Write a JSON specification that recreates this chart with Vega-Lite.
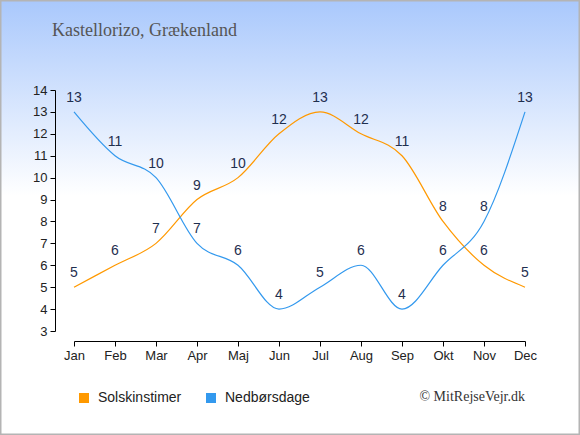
{
  "$schema": "https://vega.github.io/schema/vega-lite/v6.json",
  "width": 580,
  "height": 435,
  "padding": 0,
  "autosize": {"type": "none"},
  "background": "white",
  "title": {
    "text": "Kastellorizo, Grækenland",
    "anchor": "start",
    "frame": "group",
    "font": "Liberation Serif",
    "fontSize": 18,
    "fontWeight": "normal",
    "color": "#555555",
    "baseline": "alphabetic",
    "offset": -37,
    "dx": 52,
    "dy": 17
  },
  "data": {
    "values": [
      {"month": "Jan", "series": "Solskinstimer", "value": 5},
      {"month": "Feb", "series": "Solskinstimer", "value": 6},
      {"month": "Mar", "series": "Solskinstimer", "value": 7},
      {"month": "Apr", "series": "Solskinstimer", "value": 9},
      {"month": "Maj", "series": "Solskinstimer", "value": 10},
      {"month": "Jun", "series": "Solskinstimer", "value": 12},
      {"month": "Jul", "series": "Solskinstimer", "value": 13},
      {"month": "Aug", "series": "Solskinstimer", "value": 12},
      {"month": "Sep", "series": "Solskinstimer", "value": 11},
      {"month": "Okt", "series": "Solskinstimer", "value": 8},
      {"month": "Nov", "series": "Solskinstimer", "value": 6},
      {"month": "Dec", "series": "Solskinstimer", "value": 5},
      {"month": "Jan", "series": "Nedbørsdage", "value": 13},
      {"month": "Feb", "series": "Nedbørsdage", "value": 11},
      {"month": "Mar", "series": "Nedbørsdage", "value": 10},
      {"month": "Apr", "series": "Nedbørsdage", "value": 7},
      {"month": "Maj", "series": "Nedbørsdage", "value": 6},
      {"month": "Jun", "series": "Nedbørsdage", "value": 4},
      {"month": "Jul", "series": "Nedbørsdage", "value": 5},
      {"month": "Aug", "series": "Nedbørsdage", "value": 6},
      {"month": "Sep", "series": "Nedbørsdage", "value": 4},
      {"month": "Okt", "series": "Nedbørsdage", "value": 6},
      {"month": "Nov", "series": "Nedbørsdage", "value": 8},
      {"month": "Dec", "series": "Nedbørsdage", "value": 13}
    ]
  },
  "encoding": {
    "x": {
      "field": "month",
      "type": "ordinal",
      "sort": ["Jan", "Feb", "Mar", "Apr", "Maj", "Jun", "Jul", "Aug", "Sep", "Okt", "Nov", "Dec"],
      "scale": {"type": "point", "range": [74, 525], "padding": 0},
      "axis": {
        "title": null,
        "offset": -94,
        "labelAngle": 0,
        "grid": false,
        "domainColor": "#000000",
        "tickColor": "#000000",
        "tickSize": 5,
        "labelFont": "Liberation Sans",
        "labelFontSize": 13,
        "labelColor": "#222222",
        "labelPadding": 3
      }
    },
    "y": {
      "field": "value",
      "type": "quantitative",
      "scale": {"domain": [3, 14], "range": [331, 90], "nice": false, "zero": false},
      "axis": {
        "title": null,
        "offset": -55,
        "values": [3, 4, 5, 6, 7, 8, 9, 10, 11, 12, 13, 14],
        "grid": false,
        "domainColor": "#000000",
        "tickColor": "#000000",
        "tickSize": 5,
        "labelFont": "Liberation Sans",
        "labelFontSize": 13,
        "labelColor": "#222222",
        "labelPadding": 3
      }
    }
  },
  "layer": [
    {
      "mark": {"type": "line", "interpolate": "monotone", "strokeWidth": 1.2},
      "encoding": {
        "color": {
          "field": "series",
          "type": "nominal",
          "scale": {"domain": ["Solskinstimer", "Nedbørsdage"], "range": ["#ff9900", "#3399ee"]},
          "legend": {
            "orient": "none",
            "legendX": 77,
            "legendY": 391,
            "direction": "horizontal",
            "title": null,
            "padding": 0,
            "symbolType": "square",
            "symbolSize": 100,
            "symbolStrokeWidth": 0,
            "labelFont": "Liberation Sans",
            "labelFontSize": 14,
            "labelColor": "#222222",
            "labelOffset": 7,
            "columnPadding": 22,
            "encode": {
              "symbols": {
                "update": {
                  "fill": {"scale": "color", "field": "value"},
                  "opacity": {"value": 1}
                }
              }
            }
          }
        }
      }
    },
    {
      "mark": {
        "type": "text",
        "dy": -14,
        "baseline": "middle",
        "font": "Liberation Sans",
        "fontSize": 14,
        "color": "#1f2f4f"
      },
      "encoding": {
        "text": {"field": "value", "type": "quantitative"}
      }
    },
    {
      "data": {
        "values": [
          {"month": "Dec", "value": 0, "note": "© MitRejseVejr.dk"}
        ]
      },
      "mark": {
        "type": "text",
        "align": "right",
        "baseline": "middle",
        "font": "Liberation Serif",
        "fontSize": 14,
        "color": "#333333"
      },
      "encoding": {
        "text": {"field": "note", "type": "nominal"}
      }
    }
  ],
  "config": {
    "view": {
      "fill": {
        "gradient": "linear",
        "x1": 0,
        "y1": 0,
        "x2": 0,
        "y2": 1,
        "stops": [
          {"offset": 0, "color": "#a9c8fc"},
          {"offset": 0.45, "color": "#ffffff"},
          {"offset": 1, "color": "#ffffff"}
        ]
      },
      "stroke": "#b4b4b4",
      "strokeWidth": 3
    }
  }
}
